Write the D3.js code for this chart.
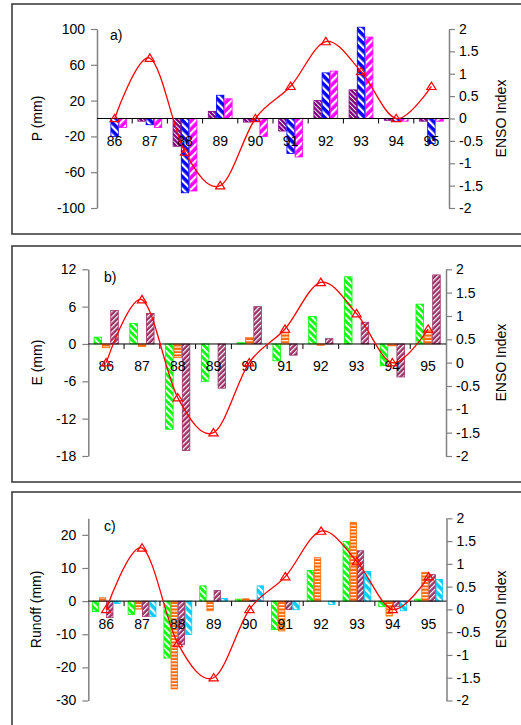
<!DOCTYPE html>
<html>
<head>
<meta charset="utf-8">
<script src="https://cdn.jsdelivr.net/npm/d3@7"></script>
<style>
  body { margin: 0; background: #fff; }
  svg text { font-family: "Liberation Sans", Arial, sans-serif; }
</style>
</head>
<body>
<svg id="chart" width="521" height="725"></svg>
<script>
// Hydrological years and the ENSO index drawn in every panel
const years = ["86", "87", "88", "89", "90", "91", "92", "93", "94", "95"];
const ensoIndex = [0, 1.35, -0.75, -1.5, 0, 0.72, 1.72, 1.05, 0, 0.72];

// a) precipitation anomalies, mm
const precipPurple  = [0, -3, -31, 8, -4, -14, 20, 32, -2, -3];
const precipBlue    = [-20, -7, -83, 26, -3, -39, 51, 102, -3, -28];
const precipMagenta = [-10, -10, -81, 22, -20, -43, 53, 91, -3, -3];

// b) evaporation anomalies, mm
const evapGreen  = [1.1, 3.3, -13.7, -6.0, 0.2, -2.7, 4.4, 10.8, -3.5, 6.4];
const evapOrange = [-0.6, -0.4, -2.2, 0, 1.0, 1.8, -0.2, 0, -0.3, 2.2];
const evapMauve  = [5.4, 4.9, -17.1, -7.1, 6.0, -1.8, 0.85, 3.5, -5.3, 11.1];

// c) runoff anomalies, mm
const runoffGreen  = [-3.2, -4.0, -17.2, 4.6, 0.6, -8.6, 9.3, 18.0, -1.7, 0.6];
const runoffOrange = [1.0, -2.4, -26.5, -2.9, 0.7, -9.0, 13.1, 23.8, -4.5, 8.7];
const runoffMauve  = [-5.0, -4.6, -13.1, 3.2, 0.3, -2.5, 0, 15.2, -1.7, 8.0];
const runoffCyan   = [-0.7, -4.7, -10.1, 0.8, 4.6, -2.6, -1.0, 9.0, -2.9, 6.6];

// Axis ticks
const precipTicks = [-100, -60, -20, 20, 60, 100];
const evapTicks   = [-18, -12, -6, 0, 6, 12];
const runoffTicks = [-30, -20, -10, 0, 10, 20];
const ensoTicks   = [-2, -1.5, -1, -0.5, 0, 0.5, 1, 1.5, 2];

const svg = d3.select("#chart");
const defs = svg.append("defs");

// Striped fills: base colour with white stripes, rotated to the given angle
function stripes(id, color, angle, period, white) {
  const p = defs.append("pattern")
    .attr("id", id)
    .attr("patternUnits", "userSpaceOnUse")
    .attr("width", period).attr("height", period)
    .attr("patternTransform", `rotate(${angle})`);
  p.append("rect").attr("width", period).attr("height", period).attr("fill", color);
  p.append("rect").attr("width", white).attr("height", period).attr("fill", "#fff");
}
stripes("hatchPurple", "#800080", -45, 3.2, 0.9);
stripes("hatchBlue", "#0000ff", -45, 5.7, 2.2);
stripes("hatchMagenta", "#ff00ff", 45, 5.7, 2.2);
stripes("hatchGreen", "#00ff00", -45, 4.7, 2.0);
stripes("hatchOrange", "#ff6600", 90, 3.3, 1.2);
stripes("hatchMauve", "#993366", 45, 3.6, 1.2);
stripes("hatchCyan", "#00ccff", -45, 5.7, 2.2);

const panels = [
  {
    tag: "a)", title: "P (mm)", domain: [-100, 100], ticks: precipTicks,
    left: 97, right: 449, top: 29, bottom: 208,
    box: [4, 234], tagPos: [110, 40], titleX: 42, groupRatio: 0.7,
    series: [
      { values: precipPurple, color: "#800080", fill: "hatchPurple" },
      { values: precipBlue, color: "#0000ff", fill: "hatchBlue" },
      { values: precipMagenta, color: "#ff00ff", fill: "hatchMagenta" }
    ]
  },
  {
    tag: "b)", title: "E (mm)", domain: [-18, 12], ticks: evapTicks,
    left: 88.3, right: 446, top: 269.3, bottom: 456,
    box: [246, 482], tagPos: [104, 282], titleX: 42, groupRatio: 0.7,
    series: [
      { values: evapGreen, color: "#00ff00", fill: "hatchGreen" },
      { values: evapOrange, color: "#ff6600", fill: "hatchOrange" },
      { values: evapMauve, color: "#993366", fill: "hatchMauve" }
    ]
  },
  {
    tag: "c)", title: "Runoff (mm)", domain: [-30, 25], ticks: runoffTicks,
    left: 88.3, right: 446.5, top: 518.3, bottom: 700.5,
    box: [492, 728], tagPos: [104, 530.5], titleX: 41, groupRatio: 0.8,
    series: [
      { values: runoffGreen, color: "#00ff00", fill: "hatchGreen" },
      { values: runoffOrange, color: "#ff6600", fill: "hatchOrange" },
      { values: runoffMauve, color: "#993366", fill: "hatchMauve" },
      { values: runoffCyan, color: "#00ccff", fill: "hatchCyan" }
    ]
  }
];

function styleAxis(sel) {
  sel.select(".domain").attr("stroke", "#808080").attr("stroke-width", 1.5);
  sel.selectAll(".tick line").attr("stroke", "#808080").attr("stroke-width", 1.2);
  sel.selectAll(".tick text").attr("font-size", 14).attr("fill", "#000")
    .style("font-family", '"Liberation Sans", Arial, sans-serif');
}

function drawPanel(cfg) {
  const g = svg.append("g");

  // frame
  g.append("rect")
    .attr("x", 12).attr("y", cfg.box[0])
    .attr("width", 520).attr("height", cfg.box[1] - cfg.box[0])
    .attr("fill", "none").attr("stroke", "#333").attr("stroke-width", 1.5);

  const x = d3.scaleBand().domain(years).range([cfg.left, cfg.right]);
  const y = d3.scaleLinear().domain(cfg.domain).range([cfg.bottom, cfg.top]);
  const yEnso = d3.scaleLinear().domain([-2, 2]).range([cfg.bottom, cfg.top]);
  const groupW = x.bandwidth() * cfg.groupRatio;
  const sub = d3.scaleBand().domain(d3.range(cfg.series.length)).range([-groupW / 2, groupW / 2]);

  // grouped bars
  cfg.series.forEach((s, i) => {
    g.append("g").selectAll("rect")
      .data(s.values.map((v, j) => ({ year: years[j], v })).filter(d => d.v !== 0))
      .join("rect")
      .attr("x", d => x(d.year) + x.bandwidth() / 2 + sub(i) + 0.4)
      .attr("y", d => y(Math.max(0, d.v)))
      .attr("width", sub.bandwidth() - 0.8)
      .attr("height", d => Math.abs(y(d.v) - y(0)))
      .attr("fill", `url(#${s.fill})`)
      .attr("stroke", s.color)
      .attr("stroke-width", 0.8);
  });

  // value axes
  g.append("g")
    .attr("transform", `translate(${cfg.left},0)`)
    .call(d3.axisLeft(y).tickValues(cfg.ticks).tickSize(6).tickSizeOuter(0)
      .tickPadding(6).tickFormat(d => String(d)))
    .call(styleAxis);
  g.append("g")
    .attr("transform", `translate(${cfg.right},0)`)
    .call(d3.axisRight(yEnso).tickValues(ensoTicks).tickSize(6).tickSizeOuter(0)
      .tickPadding(4).tickFormat(d => String(d)))
    .call(styleAxis);

  // category axis along zero
  const y0 = y(0);
  g.append("line")
    .attr("x1", cfg.left).attr("x2", cfg.right)
    .attr("y1", y0).attr("y2", y0)
    .attr("stroke", "#000").attr("stroke-width", 1);
  g.append("g").selectAll("line")
    .data(years.slice(1))
    .join("line")
    .attr("x1", d => x(d)).attr("x2", d => x(d))
    .attr("y1", y0).attr("y2", y0 + 5)
    .attr("stroke", "#000").attr("stroke-width", 1);
  g.append("g").selectAll("text")
    .data(years)
    .join("text")
    .attr("x", d => x(d) + x.bandwidth() / 2)
    .attr("y", y0 + 27.5)
    .attr("text-anchor", "middle")
    .attr("font-size", 14)
    .text(d => d);

  // titles
  g.append("text")
    .attr("transform", `translate(${cfg.titleX},${(cfg.top + cfg.bottom) / 2}) rotate(-90)`)
    .attr("text-anchor", "middle").attr("font-size", 14)
    .text(cfg.title);
  g.append("text")
    .attr("transform", `translate(506,${(cfg.top + cfg.bottom) / 2}) rotate(-90)`)
    .attr("text-anchor", "middle").attr("font-size", 14)
    .text("ENSO Index");
  g.append("text")
    .attr("x", cfg.tagPos[0]).attr("y", cfg.tagPos[1])
    .attr("font-size", 14)
    .text(cfg.tag);

  // ENSO index line with triangle markers
  const cx = d => x(d) + x.bandwidth() / 2;
  g.append("path")
    .datum(ensoIndex)
    .attr("d", d3.line()
      .x((d, j) => cx(years[j]))
      .y(d => yEnso(d))
      .curve(d3.curveCardinal.tension(0)))
    .attr("fill", "none")
    .attr("stroke", "#ff0000")
    .attr("stroke-width", 1.3);
  g.append("g").selectAll("path")
    .data(ensoIndex)
    .join("path")
    .attr("transform", (d, j) => `translate(${cx(years[j])},${yEnso(d)})`)
    .attr("d", "M0,-4.2L4.6,3.2L-4.6,3.2Z")
    .attr("fill", "none")
    .attr("stroke", "#ff0000")
    .attr("stroke-width", 1.2);
}

panels.forEach(drawPanel);
</script>
</body>
</html>
